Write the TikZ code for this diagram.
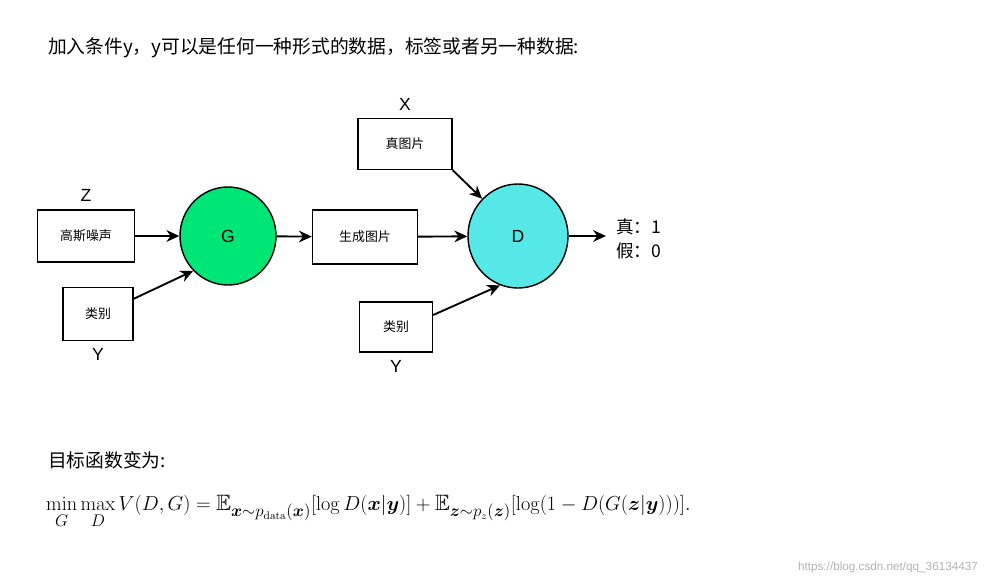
\documentclass[tikz,border=0pt]{standalone}
\usepackage{amsmath,amssymb,bm}
\usepackage[no-math]{fontspec}
\setmainfont{Liberation Sans}
\newfontfamily\cjk{Noto Sans CJK SC}
\newfontfamily\lmr{Latin Modern Roman}
\usetikzlibrary{calc}
\usetikzlibrary{shapes.geometric}
\usetikzlibrary{positioning}
\usetikzlibrary{arrows.meta}
\definecolor{gfill}{HTML}{00E676}
\definecolor{dfill}{HTML}{55E8E6}
\tikzset{
  inbox/.style={draw, line width=1.2pt, font=\cjk\fontsize{11}{13}\selectfont},
  net/.style={draw, line width=1.2pt, ellipse, font=\fontsize{15}{17}\selectfont},
  feed/.style={line width=1.6pt, -{Stealth[length=11pt,width=10pt]}},
  tag/.style={font=\fontsize{15}{17}\selectfont},
}
\begin{document}
\begin{tikzpicture}[x=0.03cm, y=-0.03cm]
  \useasboundingbox (0,0) rectangle (990,585);
  \node[anchor=west, font=\cjk\fontsize{16}{19}\selectfont] (title) at (44,48) {加入条件y，y可以是任何一种形式的数据，标签或者另一种数据:};

  \node[inbox, minimum width=2.9cm, minimum height=1.56cm] (noise) at (86,236) {高斯噪声};
  \node[inbox, minimum width=2.1cm, minimum height=1.59cm] (labelg) at (98,314) {类别};
  \node[tag, above=1mm of noise] (z) {Z};
  \node[tag, below=1mm of labelg] (yg) {Y};

  \node[net, fill=gfill, minimum width=2.88cm, minimum height=2.94cm] (g) at (228,236) {G};
  \node[inbox, minimum width=3.15cm, minimum height=1.62cm] (fake) at (365,237) {生成图片};
  \node[inbox, minimum width=2.82cm, minimum height=1.53cm] (real) at (405,144) {真图片};
  \node[tag, above=1mm of real] (x) {X};
  \node[net, fill=dfill, minimum width=3.0cm, minimum height=3.12cm] (d) at (518,236) {D};
  \node[inbox, minimum width=2.19cm, minimum height=1.5cm] (labeld) at (396,327) {类别};
  \node[tag, below=1mm of labeld] (yd) {Y};
  \coordinate (out) at (606,236);
  \node[tag, anchor=west, align=left, font=\cjk\fontsize{15}{20}\selectfont] (result) at (612,239) {真：1\\假：0};

  \draw[feed] (noise) -- (g);
  \draw[feed] ($(labelg.north east)+(0,12)$) -- (g.225);
  \draw[feed] (g) -- (fake);
  \draw[feed] (fake) -- (d);
  \draw[feed] (real.south east) -- (d.north west);
  \draw[feed] ($(labeld.east)+(0,-12)$) -- (d.250);
  \draw[feed] (d) -- (out);

  \node[anchor=west, font=\cjk\fontsize{16}{19}\selectfont] (goal) at (44,460) {目标函数变为:};
  \node[anchor=west, font=\lmr\fontsize{19}{23}\selectfont] (formula) at (42,512)
    {$\displaystyle\min_G\max_D V(D,G)=\mathbb{E}_{\bm{x}\sim p_{\text{data}}(\bm{x})}[\log D(\bm{x}|\bm{y})]+\mathbb{E}_{\bm{z}\sim p_{z}(\bm{z})}[\log(1-D(G(\bm{z}|\bm{y})))].$};
  \node[anchor=east, text=gray!60, font=\fontsize{10}{12}\selectfont] (mark) at (982,567) {https://blog.csdn.net/qq\_36134437};
\end{tikzpicture}
\end{document}
